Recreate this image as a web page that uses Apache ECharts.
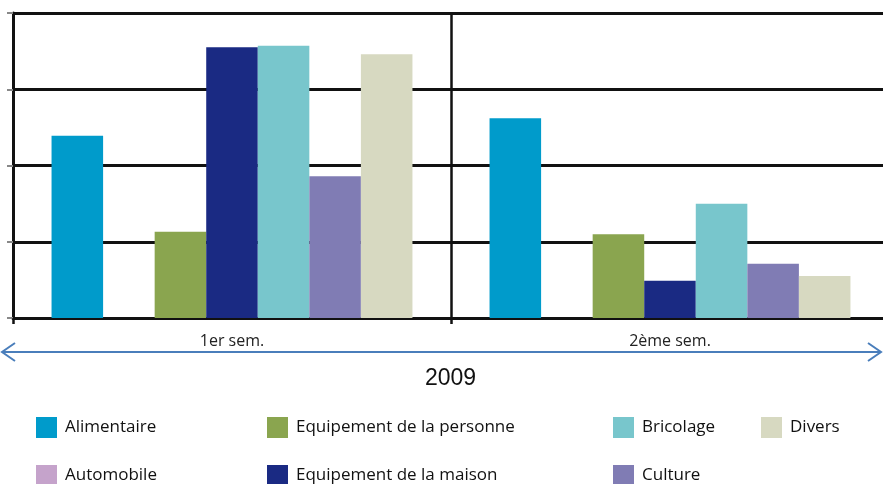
<!DOCTYPE html>
<html>
<head>
<meta charset="utf-8">
<script src="https://cdn.jsdelivr.net/npm/echarts@6/dist/echarts.min.js"></script>
<style>
    html, body {margin: 0; padding: 0; background: #fff; overflow: hidden;}
    #main {width: 889px; height: 484px;}
</style>
</head>
<body>
<div id="main"></div>
<script>
var categories = ['1er sem.', '2ème sem.'];
var seriesNames = ['Alimentaire', 'Automobile', 'Equipement de la personne', 'Equipement de la maison', 'Bricolage', 'Culture', 'Divers'];
var seriesColors = ['#009BCB', '#C5A3CB', '#8AA54F', '#1A2A83', '#78C6CC', '#807CB4', '#D7D9C1'];
var alimentaire = [2.39, 2.62];
var automobile = [0, 0];
var equipPersonne = [1.13, 1.10];
var equipMaison = [3.55, 0.49];
var bricolage = [3.57, 1.50];
var culture = [1.86, 0.71];
var divers = [3.46, 0.55];
var yearLabel = '2009';

var values = [alimentaire, automobile, equipPersonne, equipMaison, bricolage, culture, divers];

var series = [];
for (var i = 0; i < seriesNames.length; i++) {
    series.push({
        name: seriesNames[i],
        type: 'bar',
        barGap: '0%',
        barCategoryGap: '17.6%',
        itemStyle: {color: seriesColors[i]},
        data: values[i]
    });
}

// one legend per item, placed in the original's column layout
var legendPos = {
    'Alimentaire': [36, 417],
    'Automobile': [36, 465],
    'Equipement de la personne': [267, 417],
    'Equipement de la maison': [267, 465],
    'Bricolage': [613, 417],
    'Culture': [613, 465],
    'Divers': [761, 417]
};
var legends = seriesNames.map(function (name) {
    return {
        left: legendPos[name][0],
        top: legendPos[name][1],
        padding: 0,
        itemWidth: 21,
        itemHeight: 21,
        icon: 'rect',
        selectedMode: false,
        textStyle: {fontFamily: 'Open Sans', fontSize: 17, color: '#111', padding: [0, 0, 0, 3]},
        data: [name]
    };
});

var arrowColor = '#4A7EBB';
var myChart = echarts.init(document.getElementById('main'));
var option = {
    animation: false,
    grid: {left: 13, top: 13, right: 0, bottom: 166, containLabel: false},
    legend: legends,
    xAxis: {
        type: 'category',
        data: categories,
        axisLine: {lineStyle: {color: '#111', width: 3}},
        axisTick: {show: true, length: 6, lineStyle: {color: '#111', width: 2.5}},
        splitLine: {show: true, lineStyle: {color: '#111', width: 2.5}},
        axisLabel: {margin: 15, fontFamily: 'Open Sans', fontSize: 16, color: '#222'}
    },
    yAxis: {
        type: 'value',
        min: 0,
        max: 4,
        interval: 1,
        axisLine: {show: true, lineStyle: {color: '#111', width: 3}},
        axisTick: {show: true, length: 6, lineStyle: {color: '#888', width: 2}},
        axisLabel: {show: false},
        splitLine: {lineStyle: {color: '#111', width: 3}}
    },
    graphic: [
        {type: 'line', shape: {x1: 2, y1: 352, x2: 881, y2: 352}, style: {stroke: arrowColor, lineWidth: 2}},
        {type: 'polyline', shape: {points: [[15, 343], [2, 352], [15, 361]]}, style: {stroke: arrowColor, lineWidth: 2, fill: null}},
        {type: 'polyline', shape: {points: [[868, 343], [881, 352], [868, 361]]}, style: {stroke: arrowColor, lineWidth: 2, fill: null}},
        {type: 'text', left: 425, top: 367, style: {text: yearLabel, fontFamily: 'Liberation Sans', fontSize: 23, fill: '#111'}}
    ],
    series: series
};
myChart.setOption(option);
</script>
</body>
</html>
